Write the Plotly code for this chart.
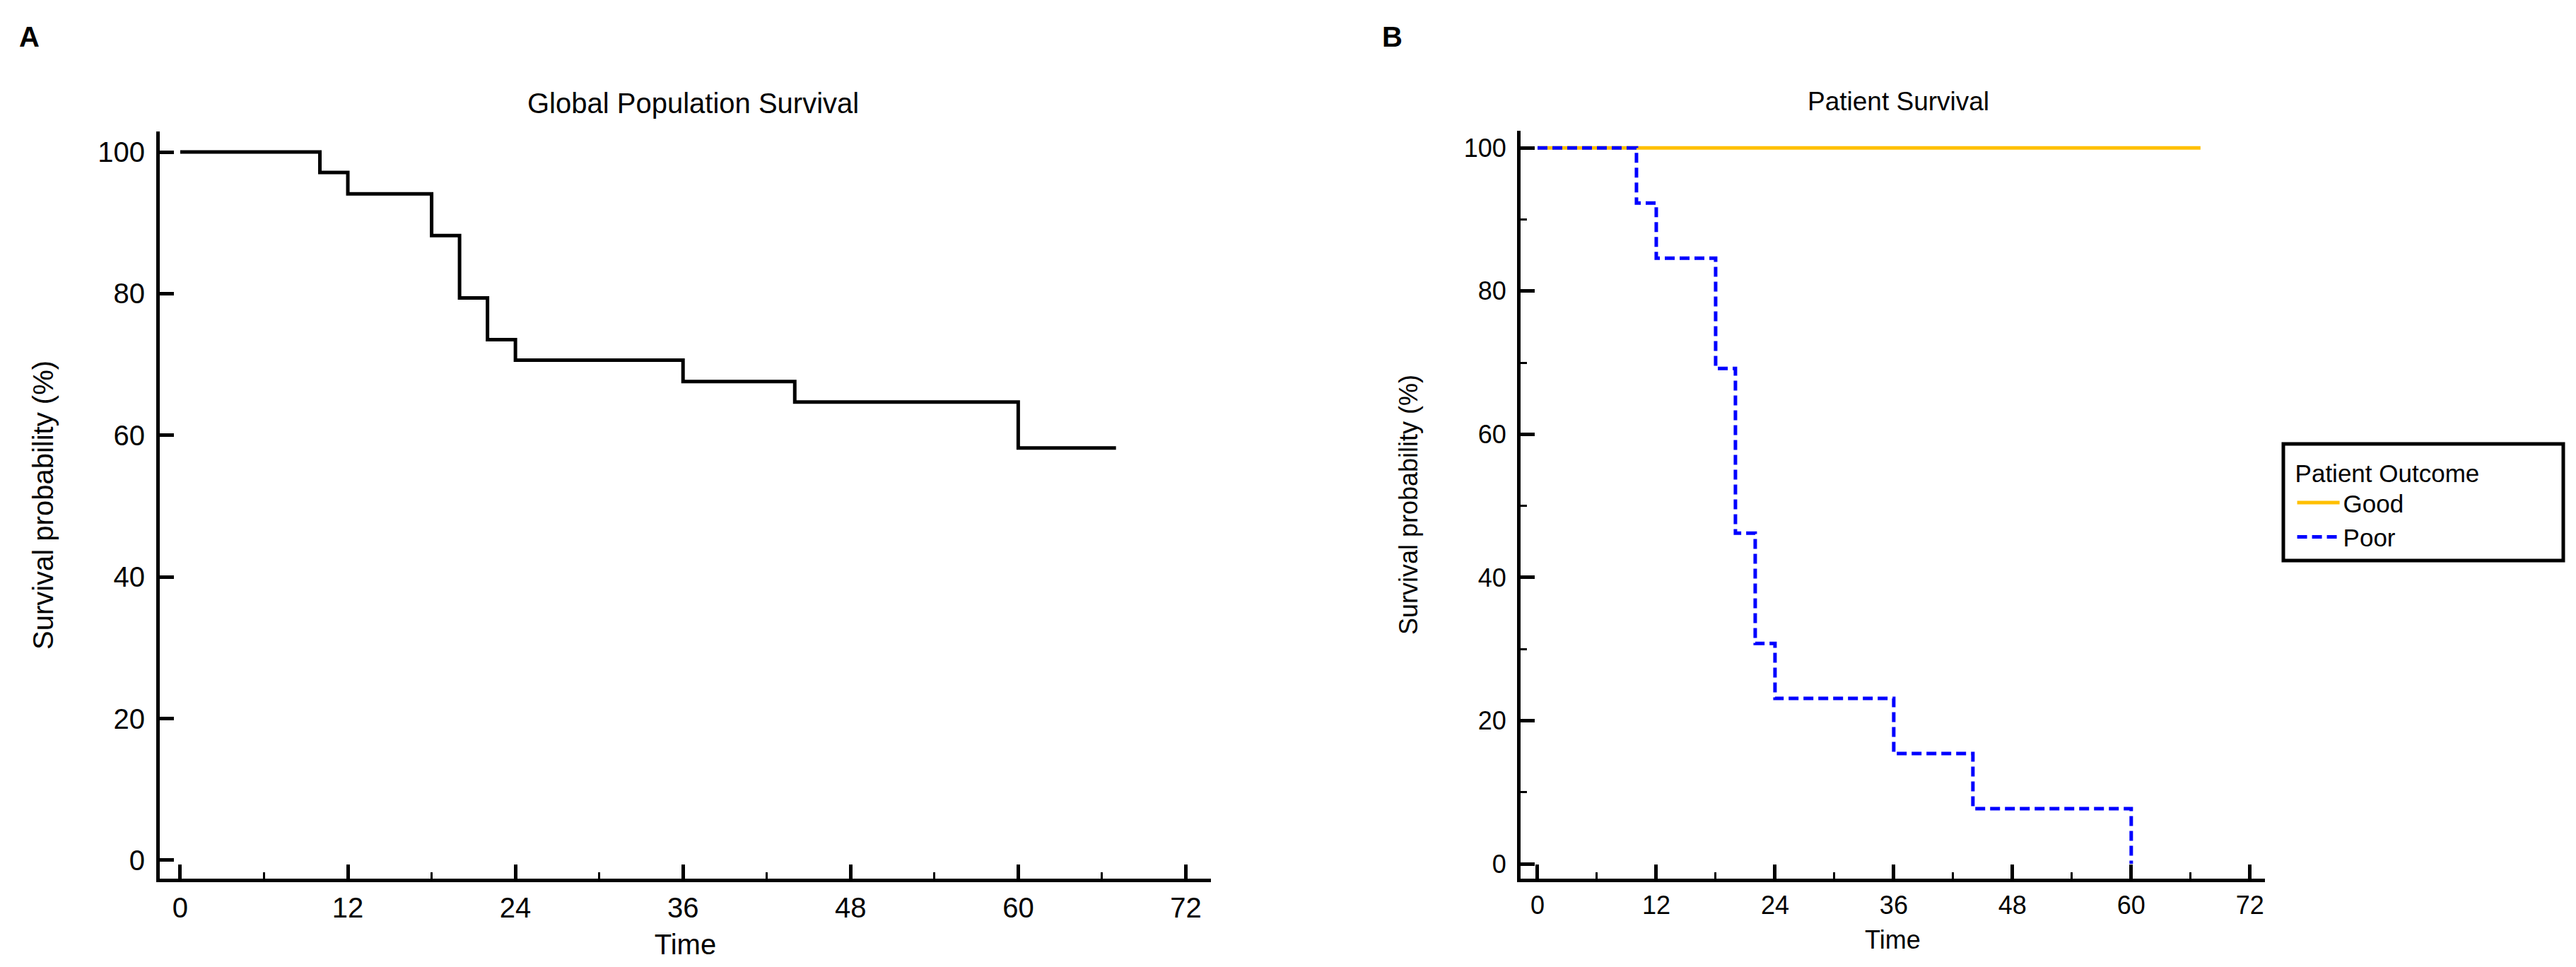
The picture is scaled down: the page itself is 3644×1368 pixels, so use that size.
import plotly.graph_objects as go

# panel A: whole cohort, Kaplan-Meier steps (months, %)
global_time = [0, 10, 12, 18, 20, 22, 24, 36, 44, 60, 67]
global_surv = [100, 97.1, 94.1, 88.2, 79.4, 73.5, 70.6, 67.6, 64.7, 58.2, 58.2]

# panel B: by patient outcome
good_time = [0, 67]
good_surv = [100, 100]
poor_time = [0, 10, 12, 18, 20, 22, 24, 36, 44, 60]
poor_surv = [100, 92.3, 84.6, 69.2, 46.2, 30.8, 23.1, 15.4, 7.7, 0]

x_ticks = [0, 12, 24, 36, 48, 60, 72]
y_ticks = [0, 20, 40, 60, 80, 100]

W, H = 3644, 1368
NARROW = 'Liberation Sans Narrow, Arial Narrow, Liberation Sans, sans-serif'
ARIAL = 'Liberation Sans, Arial, sans-serif'


def _axis(font, size, domain, rng, tickvals, title, standoff, anchor,
          minor_dtick=None, label_pad=2):
    ax = dict(
        domain=domain,
        range=rng,
        anchor=anchor,
        tickvals=tickvals,
        ticks='inside',
        ticklen=20,
        tickwidth=5,
        tickcolor='black',
        showline=True,
        linewidth=5,
        linecolor='black',
        showgrid=False,
        zeroline=False,
        tickfont=dict(family=font, size=size, color='black'),
        title=dict(text=title, font=dict(family=font, size=size, color='black'),
                   standoff=standoff),
        ticklabelstandoff=label_pad,
        fixedrange=True,
    )
    if minor_dtick is not None:
        ax['minor'] = dict(dtick=minor_dtick, tick0=0, ticks='inside', ticklen=9,
                           tickwidth=3, tickcolor='black', showgrid=False)
    return ax


def _px(x, y):
    # pixel position (from top-left) -> paper fractions
    return x / W, 1 - y / H


fig = go.Figure()

fig.add_trace(go.Scatter(
    x=global_time, y=global_surv, mode='lines', line_shape='hv',
    line=dict(color='black', width=5), showlegend=False,
    xaxis='x', yaxis='y'
))

fig.add_trace(go.Scatter(
    x=good_time, y=good_surv, mode='lines', line_shape='hv', name='Good',
    line=dict(color='#FFC000', width=5),
    xaxis='x2', yaxis='y2'
))
fig.add_trace(go.Scatter(
    x=poor_time, y=poor_surv, mode='lines', line_shape='hv', name='Poor',
    line=dict(color='#0000FF', width=5, dash='14px,7px'),
    xaxis='x2', yaxis='y2'
))

annotations = []
for text, (x, y), font, size in [
    ('Global Population Survival', (973, 138), NARROW, 40),
    ('Patient Survival', (2677, 136), ARIAL, 37),
    ('<b>A</b>', (33, 44), ARIAL, 40),
    ('<b>B</b>', (1962, 44), ARIAL, 40),
]:
    px, py = _px(x, y)
    annotations.append(dict(
        text=text, x=px, y=py, xref='paper', yref='paper',
        xanchor='center', yanchor='middle', showarrow=False,
        font=dict(family=font, size=size, color='black')
    ))

lx0, ly0 = _px(3222, 620)
lx1, ly1 = _px(3618, 785)

fig.update_layout(
    width=W,
    height=H,
    margin=dict(l=0, r=0, t=0, b=0),
    paper_bgcolor='white',
    plot_bgcolor='white',
    xaxis=_axis(NARROW, 40, [0.0598, 0.4679], [-1.47, 73.8], x_ticks, 'Time', 18, 'y', 6),
    yaxis=_axis(NARROW, 40, [0.0972, 0.8699], [-2.6, 102.9], y_ticks,
                'Survival probability (%)', 52, 'x', label_pad=8),
    xaxis2=_axis(ARIAL, 36, [0.5881, 0.8770], [-1.71, 73.5], x_ticks, 'Time', 18, 'y2', 6),
    yaxis2=_axis(ARIAL, 36, [0.0972, 0.8706], [-2.07, 102.4], y_ticks,
                 'Survival probability (%)', 56, 'x2', 10, label_pad=8),
    legend=dict(
        title=dict(text='Patient Outcome', font=dict(family=ARIAL, size=35, color='black')),
        font=dict(family=ARIAL, size=35, color='black'),
        x=lx0 + 0.004, y=ly0 - 0.006, xanchor='left', yanchor='top',
        borderwidth=0, bgcolor='rgba(0,0,0,0)',
        itemwidth=60, tracegroupgap=0,
    ),
    shapes=[dict(type='rect', xref='paper', yref='paper',
                 x0=lx0, x1=lx1, y0=ly1, y1=ly0,
                 line=dict(color='black', width=5))],
    annotations=annotations,
)

fig.write_html('out.html')
